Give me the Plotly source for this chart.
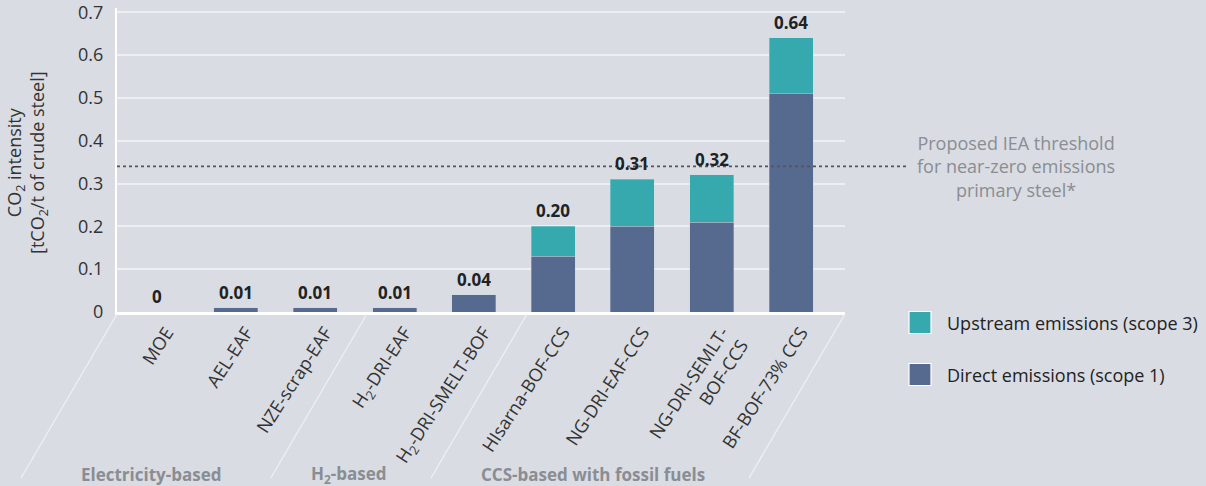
import plotly.graph_objects as go

categories = ["MOE", "AEL-EAF", "NZE-scrap-EAF", "H<sub>2</sub>-DRI-EAF",
              "H<sub>2</sub>-DRI-SMELT-BOF", "HIsarna-BOF-CCS", "NG-DRI-EAF-CCS",
              "NG-DRI-SEMLT-<br>BOF-CCS", "BF-BOF-73% CCS"]
direct = [0, 0.01, 0.01, 0.01, 0.04, 0.13, 0.20, 0.21, 0.51]
upstream = [0, 0, 0, 0, 0, 0.07, 0.11, 0.11, 0.13]
total_labels = ["0", "0.01", "0.01", "0.01", "0.04", "0.20", "0.31", "0.32", "0.64"]
threshold = 0.34
y_ticks = [0, 0.1, 0.2, 0.3, 0.4, 0.5, 0.6, 0.7]
y_ticktext = ["0", "0.1", "0.2", "0.3", "0.4", "0.5", "0.6", "0.7"]
groups = ["Electricity-based", "H<sub>2</sub>-based", "CCS-based with fossil fuels"]
group_label_x = [-0.07, 2.43, 5.5]
group_edges = [-0.5, 2.65, 4.67, 8.68]

FONT = "Open Sans"
BG = "#d9dce2"
TEAL = "#36a9ae"
NAVY = "#566a8f"
X_RANGE = [-0.5, 8.68]
Y_RANGE = [0, 0.71]
L, R, T, B = 117, 361, 8, 174
W, H = 1206, 486
plot_w = W - L - R
plot_h = H - T - B


def to_paper(xv):
    return (xv - X_RANGE[0]) / (X_RANGE[1] - X_RANGE[0])


def px_to_paper_x(px):
    return (px - L) / plot_w


def px_to_paper_y(py):
    return (H - B - py) / plot_h


fig = go.Figure()
fig.add_trace(go.Bar(x=categories, y=direct, name="Direct emissions (scope 1)",
                     marker=dict(color=NAVY, line=dict(color="rgba(200,210,225,0.6)", width=0.6)),
                     width=0.555, showlegend=False))
fig.add_trace(go.Bar(x=categories, y=upstream, name="Upstream emissions (scope 3)",
                     marker=dict(color=TEAL, line=dict(color="rgba(200,225,228,0.6)", width=0.6)),
                     width=0.555, showlegend=False))

annotations = []
for c, d, u, lab in zip(categories, direct, upstream, total_labels):
    annotations.append(dict(x=c, y=d + u, text="<b>%s</b>" % lab, showarrow=False,
                            yanchor="bottom", yshift=2,
                            font=dict(family=FONT, size=17, color="#222222")))

# y-axis title
annotations.append(dict(xref="paper", yref="paper", x=px_to_paper_x(27), y=px_to_paper_y(163),
                        text="CO<sub>2</sub> intensity<br>[tCO<sub>2</sub>/t of crude steel]",
                        textangle=-90, showarrow=False, xanchor="center", yanchor="middle",
                        font=dict(family=FONT, size=18, color="#333333")))

# threshold text
annotations.append(dict(xref="paper", yref="y", x=px_to_paper_x(1016), y=threshold,
                        text="Proposed IEA threshold<br>for near-zero emissions<br>primary steel*",
                        showarrow=False, xanchor="center", yanchor="middle", align="center",
                        font=dict(family=FONT, size=18, color="#8a8d93")))

# group labels
for g, gx in zip(groups, group_label_x):
    annotations.append(dict(xref="x", yref="paper", x=gx, y=px_to_paper_y(474),
                            text="<b>%s</b>" % g, showarrow=False,
                            xanchor="center", yanchor="middle",
                            font=dict(family=FONT, size=17, color="#8a8d93")))

shapes = []
# threshold line
shapes.append(dict(type="line", xref="paper", yref="y", x0=0, x1=px_to_paper_x(908),
                   y0=threshold, y1=threshold,
                   line=dict(color="#555555", width=1.6, dash="dot")))
# slanted group separators
slant_px = -96
for e in group_edges:
    x_top = to_paper(e)
    x_bot = x_top + slant_px / plot_w
    shapes.append(dict(type="line", xref="paper", yref="paper",
                       x0=x_top, y0=px_to_paper_y(314), x1=x_bot, y1=px_to_paper_y(478),
                       line=dict(color="#eef0f3", width=1.3)))

# manual legend
legend_items = [("Upstream emissions (scope 3)", TEAL, 322.5),
                ("Direct emissions (scope 1)", NAVY, 374.5)]
for name, col, cy in legend_items:
    shapes.append(dict(type="rect", xref="paper", yref="paper",
                       x0=px_to_paper_x(909), x1=px_to_paper_x(931),
                       y0=px_to_paper_y(cy - 11), y1=px_to_paper_y(cy + 11),
                       fillcolor=col, line=dict(color="white", width=1.2)))
    annotations.append(dict(xref="paper", yref="paper", x=px_to_paper_x(945),
                            y=px_to_paper_y(cy), text=name, showarrow=False,
                            xanchor="left", yanchor="middle",
                            font=dict(family=FONT, size=18, color="#222222")))

fig.update_layout(
    width=W, height=H, barmode="stack",
    margin=dict(l=L, r=R, t=T, b=B, pad=0, autoexpand=False),
    paper_bgcolor=BG, plot_bgcolor=BG,
    font=dict(family=FONT, size=18, color="#333333"),
    annotations=annotations, shapes=shapes,
    showlegend=False,
)
fig.update_xaxes(range=X_RANGE, tickangle=-57, showgrid=False, showline=True,
                 linecolor="white", linewidth=3, ticks="", ticklabelstandoff=0,
                 ticklabelshift=10, automargin=False,
                 tickfont=dict(family=FONT, size=18, color="#333333"))
fig.update_yaxes(range=Y_RANGE, tickvals=y_ticks, ticktext=y_ticktext,
                 showgrid=True, gridcolor="#eceef1", gridwidth=1.5,
                 showline=True, linecolor="white", linewidth=2, zeroline=False,
                 ticks="", ticklabelstandoff=8, ticklabeloverflow="allow",
                 automargin=False,
                 tickfont=dict(family=FONT, size=18, color="#333333"))

fig.write_html("out.html", config={"displayModeBar": False},
               post_script="document.body.style.margin='0';")
